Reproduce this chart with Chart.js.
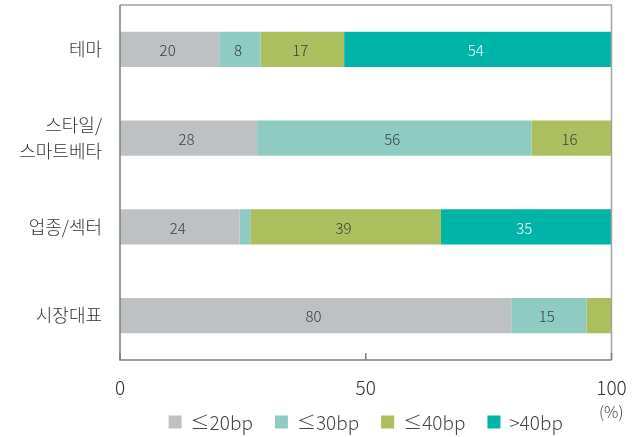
<!DOCTYPE html>
<html><head><meta charset="utf-8">
<script src="https://cdn.jsdelivr.net/npm/chart.js@4"></script>
<style>html,body{margin:0;padding:0;background:#fff}</style>
</head><body>
<canvas id="c" width="633" height="437"></canvas>
<script>
// ---- data ----
const categories = [['테마'], ['스타일/', '스마트베타'], ['업종/섹터'], ['시장대표']];
const seriesNames = ['≤20bp', '≤30bp', '≤40bp', '>40bp'];
const le20 = [20.2, 27.9, 24.3, 79.6];
const le30 = [8.4, 55.8, 2.2, 15.3];
const le40 = [17.0, 16.3, 38.8, 5.1];
const gt40 = [54.4, null, 34.7, null];
const xTicks = [0, 50, 100];
const unitLabel = '(%)';

const FONT = '"Noto Sans CJK KR", "Noto Sans", sans-serif';
const colors = ['#BEC1C3', '#8ECBC3', '#ABBF5F', '#00B5A8'];
const labelColors = ['#3c3c3c', '#3c3c3c', '#3c3c3c', '#ffffff'];

const frame = {
  id: 'frame',
  afterDatasetsDraw(chart) {
    const {ctx, chartArea: a} = chart;
    const xs = chart.scales.x;
    ctx.save();
    ctx.lineWidth = 1.5;
    ctx.strokeStyle = '#a3a3a3';
    ctx.beginPath();
    ctx.moveTo(a.left, a.top); ctx.lineTo(a.right, a.top); ctx.lineTo(a.right, a.bottom);
    ctx.stroke();
    ctx.strokeStyle = '#7d7d7d';
    ctx.beginPath();
    ctx.moveTo(a.left, a.top); ctx.lineTo(a.left, a.bottom); ctx.lineTo(a.right, a.bottom);
    ctx.stroke();
    // inner tick marks
    xTicks.forEach(t => {
      const px = xs.getPixelForValue(t);
      ctx.beginPath(); ctx.moveTo(px, a.bottom); ctx.lineTo(px, a.bottom - 7); ctx.stroke();
    });
    // value labels
    ctx.font = '300 15px ' + FONT;
    ctx.textAlign = 'center'; ctx.textBaseline = 'middle';
    chart.data.datasets.forEach((ds, i) => {
      const meta = chart.getDatasetMeta(i);
      meta.data.forEach((bar, j) => {
        const v = ds.data[j];
        if (v == null || v < 6) return;
        ctx.fillStyle = labelColors[i];
        ctx.fillText(String(Math.round(v)), (bar.x + bar.base) / 2 - 2, bar.y + 1);
      });
    });
    // unit label
    ctx.font = '300 16px ' + FONT;
    ctx.fillStyle = '#444';
    ctx.textAlign = 'right';
    ctx.fillText(unitLabel, a.right + 12, a.bottom + 52);
    // legend
    ctx.font = '300 19px ' + FONT;
    ctx.textAlign = 'left';
    const box = 13, gapText = 9, gapItem = 22;
    const widths = seriesNames.map(n => box + gapText + ctx.measureText(n).width);
    const total = widths.reduce((s, w) => s + w, 0) + gapItem * (widths.length - 1);
    let x = (a.left + a.right) / 2 - total / 2;
    const y = a.bottom + 62;
    seriesNames.forEach((n, i) => {
      ctx.fillStyle = colors[i];
      ctx.fillRect(x, y - box / 2, box, box);
      ctx.fillStyle = '#444';
      ctx.fillText(n, x + box + gapText, y + 1);
      x += widths[i] + gapItem;
    });
    ctx.restore();
  }
};

const noPad = s => { s.paddingLeft = 0; s.paddingRight = 0; s.paddingTop = 0; s.paddingBottom = 0; };
const seriesData = [le20, le30, le40, gt40];
new Chart(document.getElementById('c'), {
  type: 'bar',
  data: {
    labels: categories,
    datasets: seriesNames.map((n, i) => ({
      label: n,
      data: seriesData[i],
      backgroundColor: colors[i],
      borderWidth: 0,
      categoryPercentage: 1,
      barPercentage: 0.395
    }))
  },
  options: {
    indexAxis: 'y',
    responsive: false,
    animation: false,
    layout: {padding: {top: 5, right: 21.5, left: 0, bottom: 0}},
    plugins: {legend: {display: false}, tooltip: {enabled: false}},
    scales: {
      x: {
        type: 'linear', stacked: true, min: 0, max: 100,
        afterBuildTicks: s => { s.ticks = xTicks.map(v => ({value: v})); },
        grid: {display: false, drawTicks: false},
        border: {display: false},
        ticks: {padding: 16, color: '#333', font: {family: FONT, size: 19, weight: 300}},
        afterFit: s => { s.height = 77; noPad(s); }
      },
      y: {
        stacked: true,
        grid: {display: false, drawTicks: false},
        border: {display: false},
        ticks: {padding: 18, color: '#333', font: {family: FONT, size: 18, weight: 300, lineHeight: 1.4}},
        afterFit: s => { s.width = 120; noPad(s); }
      }
    }
  },
  plugins: [frame]
});
</script>
</body></html>
